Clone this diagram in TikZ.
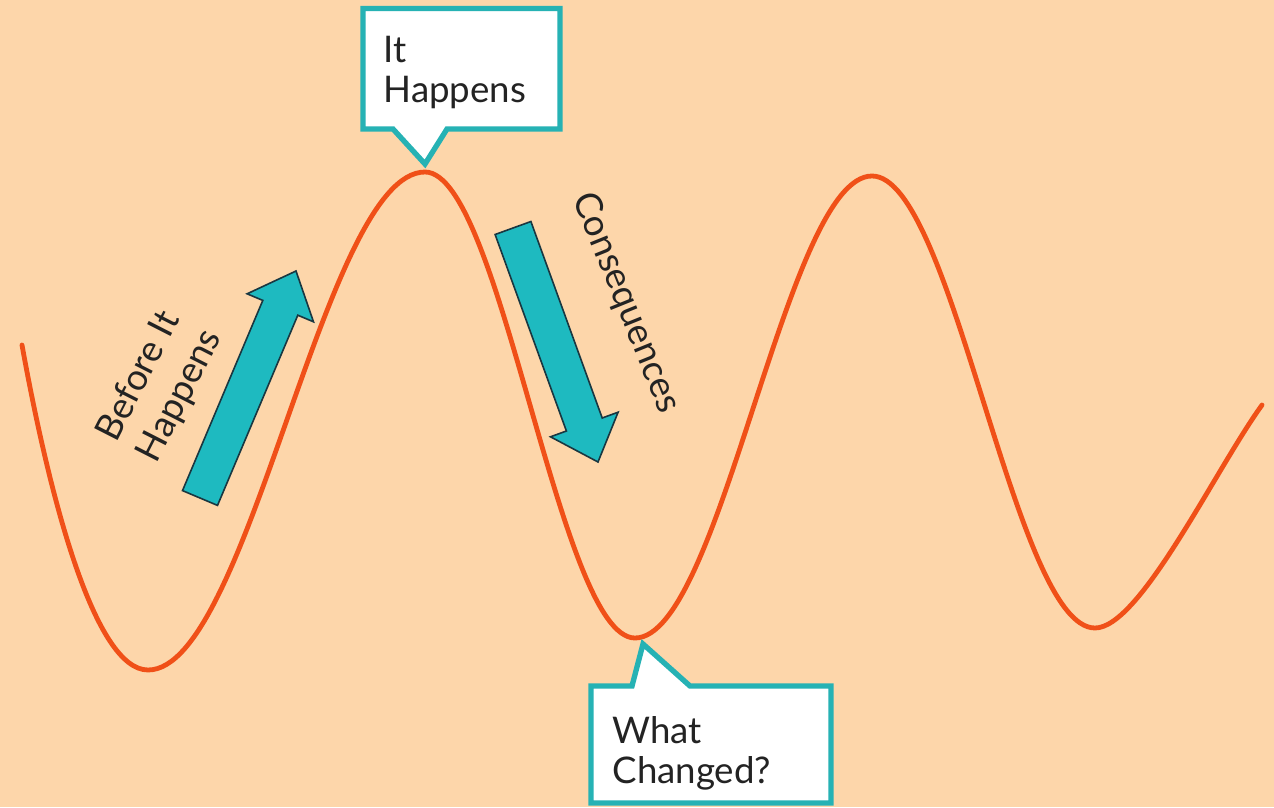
\documentclass[tikz,border=0pt]{standalone}
\usepackage{fontspec}
\setmainfont{Lato}

\definecolor{peach}{RGB}{253,214,170}
\definecolor{wave}{RGB}{240,80,24}
\definecolor{callteal}{RGB}{38,178,180}
\definecolor{arrowteal}{RGB}{30,186,192}
\definecolor{arrowedge}{RGB}{25,55,65}
\definecolor{inkgray}{RGB}{35,35,35}

\tikzset{every picture/.style={line width=0.75pt}}
\tikzset{
  callout/.style={draw=callteal, line width=4pt, fill=white, line join=miter},
  bigarrow/.style={draw=arrowedge, fill=arrowteal, line width=1.2pt, line join=miter},
  wavetext/.style={inner sep=0pt, text=inkgray, font=\fontsize{27.5}{30}\selectfont, align=left},
}

\begin{document}
\begin{tikzpicture}[x=0.75pt,y=0.75pt,yscale=-1,xscale=1]
%set diagram left start at 0, and has height of 807
\fill[peach] (0,0) rectangle (1274,807);
\useasboundingbox (0,0) rectangle (1274,807);

%Curve [wave]
\draw [wave, line width=3.6pt, line cap=round]
  (22,345) .. controls (50,500) and (95,670) .. (148,670)
  .. controls (249,670) and (324,172) .. (425,172)
  .. controls (501,172) and (559,638) .. (635,638)
  .. controls (721,638) and (786,176) .. (872,176)
  .. controls (953,176) and (1014,628) .. (1095,628)
  .. controls (1140,628) and (1215,470) .. (1262,405) ;

%Shape: Up Arrow
\draw [bigarrow] (182.5,490.6) -- (217.5,505.4) -- (297.8,315.2) -- (313.5,321.8) -- (296,271) -- (247.1,293.8) -- (262.8,300.4) -- cycle ;
%Shape: Down Arrow
\draw [bigarrow] (495.1,234.5) -- (530.9,221.5) -- (602.2,418.0) -- (618.1,412.2) -- (598,462) -- (550.5,436.8) -- (566.4,431.0) -- cycle ;

%Shape: Callout top
\draw [callout] (363,8.5) -- (560,8.5) -- (560,129) -- (447,129) -- (425,164) -- (393,129) -- (363,129) -- cycle ;
%Shape: Callout bottom
\draw [callout] (591,686) -- (632,686) -- (643,644) -- (690,686) -- (831,686) -- (831,803) -- (591,803) -- cycle ;

% Text Node
\node (happens) [wavetext, anchor=north west] at (383,36) {It\\Happens};
% Text Node
\node (changed) [wavetext, anchor=north west] at (612,716) {What\\Changed?};
% Text Node
\node (before) [wavetext, rotate=63, font=\fontsize{27.5}{34}\selectfont] at (160,386) {Before It\\Happens};
% Text Node
\node (conseq) [wavetext, rotate=-68] at (626,303) {Consequences};

\end{tikzpicture}
\end{document}
